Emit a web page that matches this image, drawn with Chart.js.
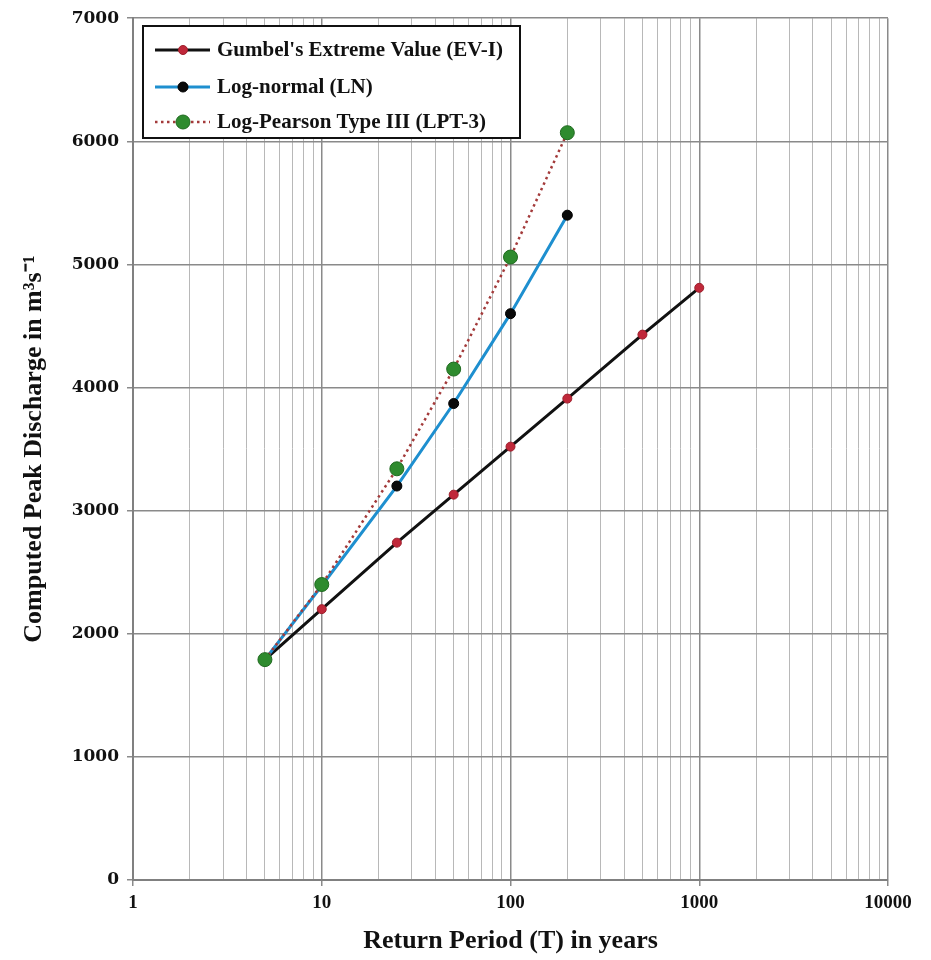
<!DOCTYPE html>
<html>
<head>
<meta charset="utf-8">
<script src="https://cdn.jsdelivr.net/npm/chart.js@4.4.1/dist/chart.umd.min.js"></script>
<style>
  body { margin: 0; background: #fff; }
  canvas { display: block; }
</style>
</head>
<body>
<canvas id="chart" width="931" height="960"></canvas>
<script>
// Périodes de retour (années) et débits calculés (m3/s)
const gumbelT = [5, 10, 25, 50, 100, 200, 500, 1000];
const gumbelQ = [1790, 2200, 2740, 3130, 3520, 3910, 4430, 4810];

const lnT = [5, 10, 25, 50, 100, 200];
const lnQ = [1790, 2390, 3200, 3870, 4600, 5400];

const lptT = [5, 10, 25, 50, 100, 200];
const lptQ = [1790, 2400, 3340, 4150, 5060, 6070];

const xTickLabels = ['1', '10', '100', '1000', '10000'];
const yTicks = [0, 1000, 2000, 3000, 4000, 5000, 6000, 7000];

function toPoints(xs, ys) {
  return xs.map((x, i) => ({ x: x, y: ys[i] }));
}

function isDecade(v) {
  let l = Math.log10(v);
  return Math.abs(l - Math.round(l)) < 1e-9;
}

// Légende dessinée dans le cadre du graphique
const legendBox = {
  id: 'legendBox',
  afterDraw(chart) {
    const ctx = chart.ctx;
    ctx.save();
    ctx.fillStyle = '#fff';
    ctx.fillRect(143, 26, 377, 112);
    ctx.strokeStyle = '#111';
    ctx.lineWidth = 2;
    ctx.strokeRect(143, 26, 377, 112);
    const rows = [50, 87, 122];
    chart.data.datasets.forEach((ds, i) => {
      const y = rows[i];
      ctx.save();
      ctx.strokeStyle = ds.borderColor;
      ctx.lineWidth = ds.borderWidth;
      ctx.setLineDash(ds.borderDash || []);
      ctx.beginPath();
      ctx.moveTo(155, y);
      ctx.lineTo(210, y);
      ctx.stroke();
      ctx.restore();
      ctx.beginPath();
      ctx.arc(183, y, ds.pointRadius, 0, Math.PI * 2);
      ctx.fillStyle = ds.pointBackgroundColor;
      ctx.fill();
      ctx.strokeStyle = ds.pointBorderColor;
      ctx.lineWidth = 1;
      ctx.stroke();
      ctx.fillStyle = '#111';
      ctx.font = 'bold 21px "Liberation Serif"';
      ctx.textBaseline = 'middle';
      ctx.textAlign = 'left';
      ctx.fillText(ds.label, 217, y + 1);
    });
    ctx.restore();
  }
};

const whiteBg = {
  id: 'whiteBg',
  beforeDraw(chart) {
    const ctx = chart.ctx;
    ctx.save();
    ctx.fillStyle = '#fff';
    ctx.fillRect(0, 0, chart.width, chart.height);
    ctx.restore();
  }
};

new Chart(document.getElementById('chart').getContext('2d'), {
  type: 'line',
  data: {
    datasets: [
      {
        label: "Gumbel's Extreme Value (EV-I)",
        data: toPoints(gumbelT, gumbelQ),
        borderColor: '#111111',
        borderWidth: 3,
        pointRadius: 4.5,
        pointBackgroundColor: '#c0283a',
        pointBorderColor: '#9e1f2c',
        pointBorderWidth: 1,
        tension: 0,
        order: 2
      },
      {
        label: 'Log-normal (LN)',
        data: toPoints(lnT, lnQ),
        borderColor: '#1e8fcf',
        borderWidth: 3,
        pointRadius: 5,
        pointBackgroundColor: '#0a0a0a',
        pointBorderColor: '#000000',
        pointBorderWidth: 1,
        tension: 0,
        order: 1
      },
      {
        label: 'Log-Pearson Type III (LPT-3)',
        data: toPoints(lptT, lptQ),
        borderColor: '#a33a3a',
        borderWidth: 2.5,
        borderDash: [2.5, 3.5],
        pointRadius: 7,
        pointBackgroundColor: '#2e8b2e',
        pointBorderColor: '#1f6a1f',
        pointBorderWidth: 1,
        tension: 0,
        order: 0
      }
    ]
  },
  options: {
    responsive: false,
    animation: false,
    layout: { padding: { top: 18, right: 43, left: 0, bottom: 0 } },
    plugins: {
      legend: { display: false },
      tooltip: { enabled: false }
    },
    scales: {
      x: {
        type: 'logarithmic',
        min: 1,
        max: 10000,
        afterBuildTicks(scale) {
          let ticks = [];
          for (let e = 0; e < 4; e++) {
            for (let s = 1; s < 10; s++) ticks.push({ value: s * Math.pow(10, e) });
          }
          ticks.push({ value: 10000 });
          scale.ticks = ticks;
        },
        afterFit(scale) { scale.height = 80; },
        ticks: {
          autoSkip: false,
          maxRotation: 0,
          padding: 6,
          color: '#111',
          font: { family: '"Liberation Serif"', size: 19, weight: 'bold' },
          callback: function(value) {
            return isDecade(value) ? xTickLabels[Math.round(Math.log10(value))] : '';
          }
        },
        grid: {
          color: (c) => (c.tick && isDecade(c.tick.value)) ? '#8a8a8a' : '#b8b8b8',
          lineWidth: (c) => (c.tick && isDecade(c.tick.value)) ? 1.5 : 1,
          tickColor: (c) => (c.tick && isDecade(c.tick.value)) ? '#8a8a8a' : 'rgba(0,0,0,0)',
          tickLength: 6
        },
        border: { color: '#808080', width: 2 },
        title: {
          display: true,
          text: 'Return Period (T) in years',
          color: '#111',
          font: { family: '"Liberation Serif"', size: 26, weight: 'bold' },
          padding: { top: 0, bottom: 3 }
        }
      },
      y: {
        type: 'linear',
        min: 0,
        max: 7000,
        afterBuildTicks(scale) {
          scale.ticks = yTicks.map(v => ({ value: v }));
        },
        afterFit(scale) { scale.width = 133; },
        ticks: {
          padding: 8,
          color: '#111',
          font: { family: '"DejaVu Serif"', size: 17, weight: 'bold' },
          callback: (v) => String(v)
        },
        grid: {
          color: '#8a8a8a',
          lineWidth: 1.5,
          tickLength: 6
        },
        border: { color: '#808080', width: 2 },
        title: {
          display: true,
          text: 'Computed Peak Discharge in m\u00B3s\u207B\u00B9',
          color: '#111',
          font: { family: '"Liberation Serif"', size: 26, weight: 'bold' },
          padding: { top: 19, bottom: 0 }
        }
      }
    }
  },
  plugins: [whiteBg, legendBox]
});
</script>
</body>
</html>
